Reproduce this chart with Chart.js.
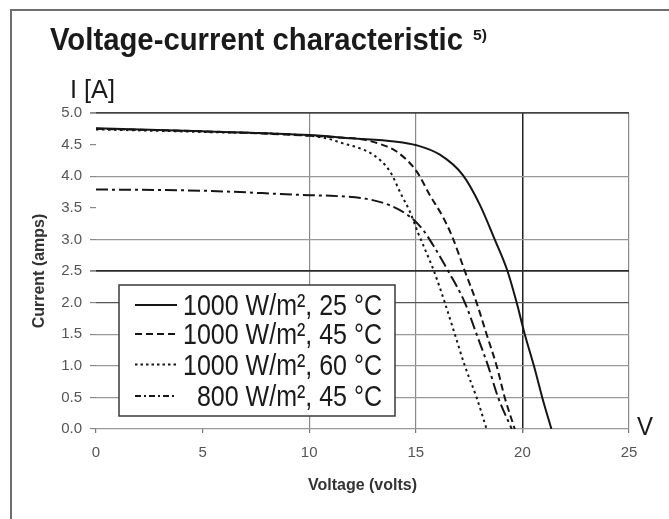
<!DOCTYPE html>
<html>
<head>
<meta charset="utf-8">
<script src="https://cdn.jsdelivr.net/npm/chart.js@4.4.1/dist/chart.umd.min.js"></script>
<style>
  html, body { margin: 0; padding: 0; background: #fff; }
  #wrap { position: relative; width: 669px; height: 519px; }
</style>
</head>
<body>
<div id="wrap"><canvas id="c"></canvas></div>
<script>
// ---- Data (voltage in volts, current in amps) ----
const v25 = [0, 5, 10, 12, 14, 15.03, 16.13, 17.2, 18.0, 18.7, 19.3, 19.73, 20.11, 20.54, 20.93, 21.36];
const i25 = [4.76, 4.71, 4.65, 4.6, 4.55, 4.49, 4.34, 4.02, 3.55, 3.0, 2.5, 2.0, 1.5, 1.0, 0.5, 0];

const v45 = [0, 5, 10, 11.5, 12.53, 13.4, 14.1, 15.03, 15.66, 16.28, 16.7, 17.3, 17.85, 18.32, 18.79, 19.17, 19.64];
const i45 = [4.75, 4.71, 4.64, 4.61, 4.58, 4.5, 4.39, 4.08, 3.7, 3.35, 3.05, 2.5, 2.0, 1.5, 1.0, 0.5, 0];

const v60 = [0, 5, 10, 10.8, 11.59, 12.3, 13.0, 13.78, 14.33, 14.72, 15.11, 15.85, 16.36, 16.83, 17.3, 17.85, 18.32];
const i60 = [4.74, 4.7, 4.64, 4.6, 4.52, 4.45, 4.34, 4.08, 3.7, 3.44, 3.1, 2.5, 2.0, 1.5, 1.0, 0.5, 0];

const v800 = [0, 5, 10, 11, 12.53, 13.78, 14.72, 15.34, 15.81, 16.52, 17.3, 17.85, 18.39, 18.86, 19.5];
const i800 = [3.79, 3.77, 3.7, 3.69, 3.65, 3.54, 3.36, 3.15, 2.91, 2.5, 2.0, 1.5, 1.0, 0.5, 0];

const seriesLabels = ['1000 W/m², 25 °C', '1000 W/m², 45 °C', '1000 W/m², 60 °C', '800 W/m², 45 °C'];
const titleText = 'Voltage-current characteristic';
const titleNote = '5)';
const xTitle = 'Voltage (volts)';
const yTitle = 'Current (amps)';
const yUnit = 'I [A]';
const xUnit = 'V';

function pts(vs, is) { return vs.map((v, k) => ({ x: v, y: is[k] })); }

const dashes = [[], [7, 4], [2.5, 3.5], [12, 4, 3, 4]];
const legendDashes = [[], [7, 4], [2.5, 3], [6, 3, 2, 3]];

const datasets = [
  { label: seriesLabels[0], data: pts(v25, i25) },
  { label: seriesLabels[1], data: pts(v45, i45) },
  { label: seriesLabels[2], data: pts(v60, i60) },
  { label: seriesLabels[3], data: pts(v800, i800) }
].map((d, k) => Object.assign(d, {
  showLine: true, pointRadius: 0, borderWidth: 2, borderColor: '#151515',
  borderDash: dashes[k], cubicInterpolationMode: 'monotone', fill: false
}));

const decor = {
  id: 'decor',
  afterDraw(chart) {
    const ctx = chart.ctx;
    ctx.save();
    // frame
    ctx.strokeStyle = '#6e6e6e';
    ctx.lineWidth = 2;
    ctx.beginPath();
    ctx.moveTo(11, 519); ctx.lineTo(11, 10); ctx.lineTo(669, 10);
    ctx.stroke();

    function fitText(txt, font, x, y, w, align) {
      ctx.font = font;
      const m = ctx.measureText(txt).width;
      const sx = w / m;
      ctx.save();
      ctx.translate(x, y);
      ctx.scale(sx, 1);
      ctx.textAlign = align || 'left';
      ctx.textBaseline = 'alphabetic';
      ctx.fillText(txt, 0, 0);
      ctx.restore();
      return sx;
    }
    ctx.fillStyle = '#1a1a1a';
    fitText(titleText, 'bold 31px "Liberation Sans Narrow", "Liberation Sans", Arial, sans-serif', 50, 49.5, 413);
    fitText(titleNote, 'bold 15px "Liberation Sans Narrow", "Liberation Sans", sans-serif', 473, 40, 14);
    fitText(yUnit, '25px "Liberation Sans Narrow", "Liberation Sans", sans-serif', 70, 98, 45);
    fitText(xUnit, '25px "Liberation Sans Narrow", "Liberation Sans", sans-serif', 637, 435, 16);

    // legend box
    const bx = 119, by = 285, bw = 276, bh = 131;
    ctx.fillStyle = '#fff';
    ctx.fillRect(bx, by, bw, bh);
    ctx.strokeStyle = '#3a3a3a';
    ctx.lineWidth = 1.5;
    ctx.strokeRect(bx, by, bw, bh);

    const baselines = [315, 344, 374.5, 406];
    const lfont = '30px "Liberation Sans Narrow", "Liberation Sans", sans-serif';
    ctx.font = lfont;
    const sx = 199 / ctx.measureText(seriesLabels[0]).width;
    chart.data.datasets.forEach((ds, k) => {
      const yb = baselines[k];
      ctx.save();
      ctx.strokeStyle = '#151515';
      ctx.lineWidth = 2;
      ctx.setLineDash(legendDashes[k]);
      ctx.beginPath();
      ctx.moveTo(135, yb - 10); ctx.lineTo(177, yb - 10);
      ctx.stroke();
      ctx.restore();
      ctx.save();
      ctx.fillStyle = '#1a1a1a';
      ctx.font = lfont;
      ctx.translate(382, yb);
      ctx.scale(sx, 1);
      ctx.textAlign = 'right';
      ctx.textBaseline = 'alphabetic';
      ctx.fillText(ds.label, 0, 0);
      ctx.restore();
    });
    ctx.restore();
  }
};

const tickFont = { family: '"Liberation Sans", Arial, sans-serif', size: 15 };
const titleFont = { family: '"Liberation Sans", Arial, sans-serif', size: 16, weight: 'bold' };

new Chart(document.getElementById('c'), {
  type: 'scatter',
  data: { datasets },
  options: {
    responsive: true,
    maintainAspectRatio: false,
    animation: false,
    layout: { padding: { left: 20, right: 40, top: 113, bottom: 0 } },
    plugins: { legend: { display: false }, tooltip: { enabled: false } },
    scales: {
      x: {
        type: 'linear', min: 0, max: 25,
        ticks: { stepSize: 5, font: tickFont, color: '#555', padding: 11 },
        grid: {
          color: c => {
            const v = c.tick.value;
            if (v === 0 || v === 5) return 'rgba(0,0,0,0)';
            if (v === 20) return '#222';
            return '#8a8a8a';
          },
          lineWidth: c => (c.tick.value === 20 ? 1.5 : 1.2),
          tickLength: 4,
          tickColor: '#777'
        },
        border: { display: false },
        title: { display: true, text: xTitle, font: titleFont, color: '#333', padding: { top: 24, bottom: 24 } },
        afterFit: s => { s.height = 90; }
      },
      y: {
        type: 'linear', min: 0, max: 5,
        ticks: { stepSize: 0.5, font: tickFont, color: '#555', padding: 8, callback: v => v.toFixed(1) },
        grid: {
          color: c => {
            const v = Math.round(c.tick.value * 10) / 10;
            if (v === 4.5 || v === 3.5) return 'rgba(0,0,0,0)';
            if (v === 5) return '#444';
            if (v === 2.5) return '#2a2a2a';
            if (v === 2) return '#555';
            return '#999';
          },
          lineWidth: c => {
            const v = Math.round(c.tick.value * 10) / 10;
            return (v === 2.5 || v === 5) ? 1.8 : 1.2;
          },
          tickLength: 6,
          tickColor: '#888'
        },
        border: { display: false },
        title: { display: true, text: yTitle, font: titleFont, color: '#333', padding: { top: 10, bottom: 10 } },
        afterFit: s => { s.width = 76; }
      }
    }
  },
  plugins: [decor]
});
</script>
</body>
</html>
